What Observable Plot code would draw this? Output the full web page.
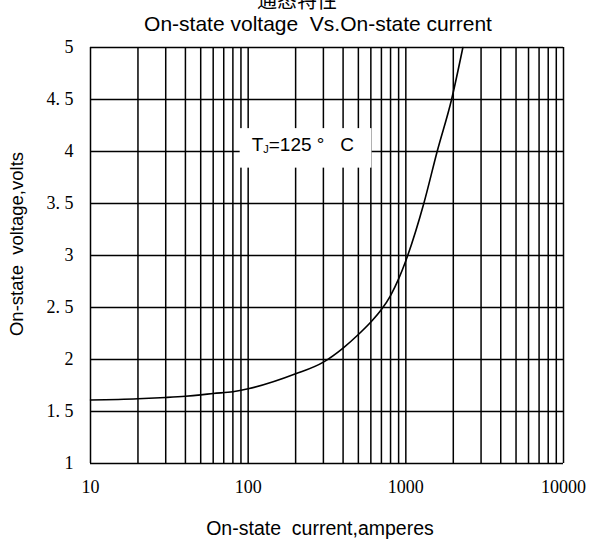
<!DOCTYPE html>
<html>
<head>
<meta charset="utf-8">
<script src="https://cdn.jsdelivr.net/npm/d3@7"></script>
<script src="https://cdn.jsdelivr.net/npm/@observablehq/plot@0.6"></script>
<style>
  html, body { margin: 0; padding: 0; background: white; }
  #chart { width: 589px; height: 546px; overflow: hidden; }
</style>
</head>
<body>
<div id="chart"></div>
<script>
// ---- data ----
const current = [10, 20, 30, 40, 50, 60, 80, 100, 200, 300, 400, 500, 600, 700, 800, 900, 1000, 1300, 1580, 1950, 2300];
const voltage = [1.61, 1.622, 1.635, 1.647, 1.66, 1.673, 1.69, 1.718, 1.862, 1.975, 2.11, 2.24, 2.36, 2.48, 2.615, 2.775, 2.95, 3.5, 4.0, 4.5, 5.0];

const xGrid = [10, 20, 30, 40, 50, 60, 70, 80, 90,
               100, 200, 300, 400, 500, 600, 700, 800, 900,
               1000, 2000, 3000, 4000, 5000, 6000, 7000, 8000, 9000, 10000];
const yGrid = [1, 1.5, 2, 2.5, 3, 3.5, 4, 4.5, 5];
const xTicks = [10, 100, 1000, 10000];
const yTicks = [1, 1.5, 2, 2.5, 3, 3.5, 4, 4.5, 5];

const boxX = [89, 610];
const boxY = [3.84, 4.22];
const labelPos = [106, 4.0];

const titleText = "On-state voltage  Vs.On-state current";
const topText = "通态特性";
const xLabel = "On-state  current,amperes";
const yLabel = "On-state  voltage,volts";

const curve = current.map((c, i) => ({current: c, voltage: voltage[i]}));

const plot = Plot.plot({
  width: 589,
  height: 546,
  marginTop: 47,
  marginBottom: 83,
  marginLeft: 90,
  marginRight: 26,
  style: {background: "white", color: "black", fontFamily: "'Liberation Serif', serif", fontSize: "18px"},
  x: {type: "log", domain: [10, 10000], ticks: xTicks, tickSize: 0, tickPadding: 17, tickFormat: d => String(d), label: null},
  y: {domain: [1, 5], ticks: yTicks, tickSize: 0, tickPadding: 17,
      tickFormat: d => Number.isInteger(d) ? String(d) : d.toFixed(1).replace(".", ". "), label: null},
  marks: [
    Plot.ruleX(xGrid, {stroke: "black", strokeWidth: 1.5}),
    Plot.ruleY(yGrid, {stroke: "black", strokeWidth: 1.5}),
    Plot.rect([{x1: boxX[0], x2: boxX[1], y1: boxY[0], y2: boxY[1]}], {x1: "x1", x2: "x2", y1: "y1", y2: "y2", fill: "white"}),
    Plot.line(curve, {x: "current", y: "voltage", stroke: "black", strokeWidth: 1.6, curve: "monotone-x"})
  ]
});

document.getElementById("chart").appendChild(plot);

const svg = d3.select(plot);
svg.selectAll("text").style("white-space", "pre");
const sx = plot.scale("x"), sy = plot.scale("y");

const sans = "'Liberation Sans', Arial, sans-serif";

svg.append("text")
  .attr("x", 297).attr("y", 8)
  .attr("text-anchor", "middle")
  .style("font-family", "'Noto Sans CJK SC', sans-serif")
  .style("font-size", "20px")
  .text(topText);

svg.append("text")
  .attr("x", 318).attr("y", 31)
  .attr("text-anchor", "middle")
  .style("font-family", sans)
  .style("font-size", "21px")
  .style("white-space", "pre")
  .text(titleText);

svg.append("text")
  .attr("x", 320).attr("y", 535)
  .attr("text-anchor", "middle")
  .style("font-family", sans)
  .style("font-size", "19.5px")
  .style("white-space", "pre")
  .text(xLabel);

svg.append("text")
  .attr("transform", "translate(23,244) rotate(-90)")
  .attr("text-anchor", "middle")
  .style("font-family", sans)
  .style("font-size", "18.5px")
  .style("white-space", "pre")
  .text(yLabel);

const lab = svg.append("text")
  .attr("x", sx.apply(labelPos[0])).attr("y", sy.apply(labelPos[1]))
  .attr("text-anchor", "start")
  .style("font-family", sans)
  .style("font-size", "19px")
  .style("white-space", "pre");
lab.append("tspan").text("T");
lab.append("tspan").attr("dy", 2).style("font-size", "11px").text("J");
lab.append("tspan").attr("dy", -2).text("=125 °   C");
</script>
</body>
</html>
